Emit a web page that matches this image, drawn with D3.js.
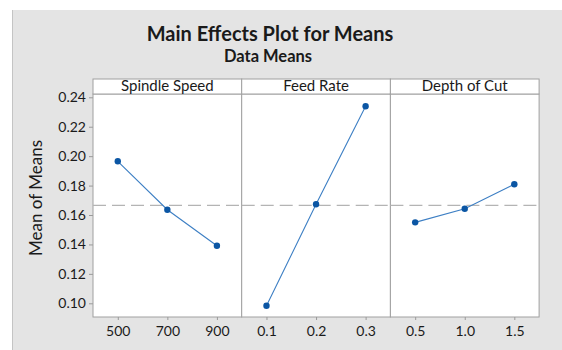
<!DOCTYPE html>
<html lang="en">
<head>
  <meta charset="UTF-8">
  <title>Main Effects Plot for Means</title>
  <script src="https://d3js.org/d3.v7.min.js"></script>
  <style>
    body { margin: 0; background: #fff; }
    text { font-family: Lato, "Open Sans", sans-serif; fill: #1a1a1a; }
  </style>
</head>
<body>
<svg width="562" height="350"></svg>
<script>
  // factors and their levels
  var factors = ["Spindle Speed", "Feed Rate", "Depth of Cut"];
  var spindleLevels = ["500", "700", "900"];
  var feedLevels = ["0.1", "0.2", "0.3"];
  var depthLevels = ["0.5", "1.0", "1.5"];

  // mean of means at each level
  var spindleMeans = [0.1965, 0.1636, 0.1391];
  var feedMeans = [0.0983, 0.1673, 0.2339];
  var depthMeans = [0.1550, 0.1643, 0.1809];

  var yTicks = [0.10, 0.12, 0.14, 0.16, 0.18, 0.20, 0.22, 0.24];

  var levels = [spindleLevels, feedLevels, depthLevels];
  var means = [spindleMeans, feedMeans, depthMeans];
  var grand = d3.mean(spindleMeans.concat(feedMeans, depthMeans));

  var svg = d3.select("svg");

  // grey background
  svg.append("rect")
    .attr("x", 12).attr("y", 10)
    .attr("width", 562).attr("height", 350)
    .attr("fill", "#e4e4e4");
  svg.append("line")
    .attr("x1", 12.5).attr("x2", 12.5).attr("y1", 10).attr("y2", 350)
    .attr("stroke", "#c4c4c4");

  svg.append("text")
    .attr("x", 270).attr("y", 41)
    .attr("text-anchor", "middle")
    .style("font-size", "20px").style("font-weight", "bold")
    .text("Main Effects Plot for Means");
  svg.append("text")
    .attr("x", 268).attr("y", 62)
    .attr("text-anchor", "middle")
    .style("font-size", "16.5px").style("font-weight", "bold")
    .text("Data Means");

  var plotLeft = 93, plotTop = 94, plotBottom = 317, stripTop = 79;
  var panelW = 148.7;

  var y = d3.scaleLinear().domain([0.10, 0.24]).range([303.3, 97.3]);

  // y axis
  var yAxis = svg.append("g")
    .attr("transform", "translate(" + plotLeft + ",0)")
    .call(d3.axisLeft(y).tickValues(yTicks).tickFormat(d3.format(".2f")).tickSize(4).tickPadding(3));
  yAxis.select(".domain").remove();
  yAxis.selectAll("line").attr("stroke", "#9a9a9a");
  yAxis.selectAll("text").style("font-size", "14px").style("font-family", "Lato, sans-serif").attr("fill", "#1a1a1a");

  svg.append("text")
    .attr("transform", "translate(42,198) rotate(-90)")
    .attr("text-anchor", "middle")
    .style("font-size", "17px")
    .text("Mean of Means");

  factors.forEach(function(f, i) {
    var x0 = plotLeft + i * panelW;
    var x = d3.scalePoint().domain(levels[i]).range([x0, x0 + panelW]).padding(0.5);
    var g = svg.append("g");

    // panel
    g.append("rect")
      .attr("x", x0).attr("y", plotTop)
      .attr("width", panelW).attr("height", plotBottom - plotTop)
      .attr("fill", "#fff").attr("stroke", "#a0a0a0").attr("stroke-width", 1);
    // strip
    g.append("rect")
      .attr("x", x0).attr("y", stripTop)
      .attr("width", panelW).attr("height", plotTop - stripTop)
      .attr("fill", "#fff").attr("stroke", "#a0a0a0").attr("stroke-width", 1);
    g.append("text")
      .attr("x", x0 + panelW / 2).attr("y", 91)
      .attr("text-anchor", "middle")
      .style("font-size", "15px")
      .text(f);

    // x axis
    var xa = g.append("g")
      .attr("transform", "translate(0," + plotBottom + ")")
      .call(d3.axisBottom(x).tickSize(3).tickPadding(6));
    xa.select(".domain").remove();
    xa.selectAll("line").attr("stroke", "#9a9a9a");
    xa.selectAll("text").style("font-size", "14px").style("font-family", "Lato, sans-serif").attr("fill", "#1a1a1a");

    // grand mean reference
    g.append("line")
      .attr("x1", x0).attr("x2", x0 + panelW)
      .attr("y1", y(grand)).attr("y2", y(grand))
      .attr("stroke", "#b4b4b4").attr("stroke-width", 1.3)
      .attr("stroke-dasharray", "13,6");

    var pts = levels[i].map(function(l, j) { return { l: l, v: means[i][j] }; });
    var line = d3.line()
      .x(function(d) { return x(d.l); })
      .y(function(d) { return y(d.v); });
    g.append("path")
      .datum(pts)
      .attr("d", line)
      .attr("fill", "none")
      .attr("stroke", "#3d7fc4")
      .attr("stroke-width", 1.1);
    g.selectAll("circle")
      .data(pts)
      .enter().append("circle")
      .attr("cx", function(d) { return x(d.l); })
      .attr("cy", function(d) { return y(d.v); })
      .attr("r", 3.2)
      .attr("fill", "#0b56a4");
  });
</script>
</body>
</html>
